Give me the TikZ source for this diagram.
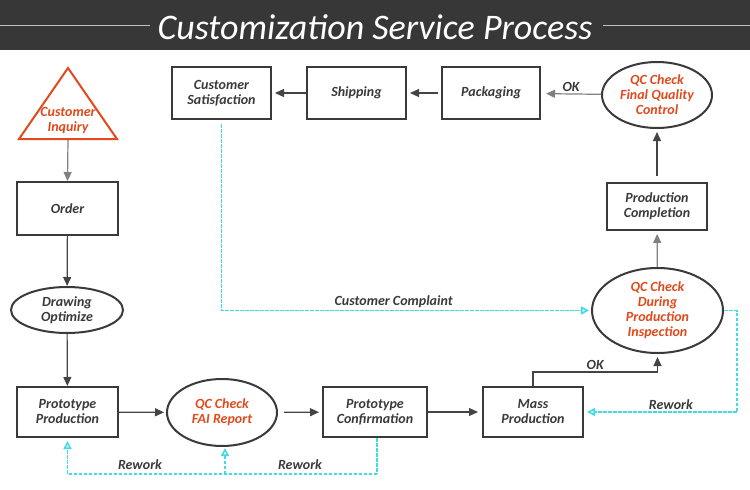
\documentclass[tikz,border=0pt]{standalone}
\usepackage{fontspec}
\setmainfont{Carlito}
\usetikzlibrary{arrows.meta,shapes.geometric}
\definecolor{band}{HTML}{373737}
\definecolor{txt}{HTML}{3A3A3A}
\definecolor{qcred}{HTML}{E04A1C}
\definecolor{cyn}{HTML}{3FDCE6}
\definecolor{ln}{HTML}{444444}
\newcommand\fsz{\fontsize{14}{15}\selectfont}
\begin{document}
\begin{tikzpicture}[x=1pt,y=-1pt,
  lbl/.style={font=\fsz\bfseries\itshape,text=txt,align=center},
  box/.style={lbl,draw=txt,line width=2pt,inner sep=0pt},
  ell/.style={lbl,draw=txt,line width=2pt,ellipse,inner sep=0pt},
  red/.style={text=qcred},
  arr/.style={draw=ln,line width=1.2pt,-{Triangle[length=9pt,width=8pt]}},
  cy/.style={draw=cyn,line width=1.6pt,dash pattern=on 3.5pt off 1.5pt,-{Triangle[open,length=8pt,width=8pt]}},
  tag/.style={lbl,inner sep=2pt}
]
\useasboundingbox (0,0) rectangle (750,490);
\fill[white] (0,0) rectangle (750,490);
% header
\fill[band] (0,0) rectangle (750,50);
\node[text=white,font=\fontsize{36}{36}\selectfont\itshape] (title) at (375,27) {Customization Service Process};
\draw[gray!50,line width=0.8pt] (0,25) -- (150,25);
\draw[gray!50,line width=0.8pt] (603,25) -- (750,25);
% triangle
\draw[qcred,line width=2pt,line join=miter] (68,68) -- (117,139) -- (19,139) -- cycle;
\node[lbl,red] (inq) at (68,121) {Customer\\Inquiry};
\coordinate (inqb) at (68,140);
% nodes
\node[box,minimum width=99pt,minimum height=52pt] (cs) at (221.5,93) {Customer\\Satisfaction};
\node[box,minimum width=99pt,minimum height=52pt] (ship) at (356.5,93) {Shipping};
\node[box,minimum width=98pt,minimum height=52pt] (pack) at (491,93) {Packaging};
\node[ell,red,minimum width=110pt,minimum height=66pt] (fqc) at (657,95) {QC Check\\Final Quality\\Control};
\node[box,minimum width=100pt,minimum height=47pt] (pc) at (657,206.5) {Production\\Completion};
\node[ell,red,minimum width=131pt,minimum height=85pt] (dqc) at (657.5,310.5) {QC Check\\During\\Production\\Inspection};
\node[box,minimum width=101pt,minimum height=53pt] (order) at (67.5,208.5) {Order};
\node[ell,minimum width=112pt,minimum height=46pt] (dopt) at (67,310) {Drawing\\Optimize};
\node[box,minimum width=101pt,minimum height=50pt] (pp) at (67.5,412) {Prototype\\Production};
\node[ell,red,minimum width=110pt,minimum height=67pt] (fai) at (222,412.5) {QC Check\\FAI Report};
\node[box,minimum width=104pt,minimum height=50pt] (pconf) at (375,412) {Prototype\\Confirmation};
\node[box,minimum width=100pt,minimum height=50pt] (mass) at (533,412) {Mass\\Production};
% arrows
\draw[arr,draw=gray] (inqb) -- (order.north);
\draw[arr] (order) -- (dopt);
\draw[arr] (dopt) -- (pp);
\draw[arr,shorten >=2pt] (pp) -- (fai);
\draw[arr,shorten <=6pt,shorten >=3pt] (fai) -- (pconf);
\draw[arr,shorten >=4pt] (pconf) -- (mass);
\draw[arr,shorten >=3pt] (mass.north) -- ++(0,-14) -| node[pos=0.25,above,tag] {OK} (dqc.south);
\draw[arr,draw=gray,shorten >=3pt] (dqc) -- (pc);
\draw[arr,shorten <=6pt,shorten >=3pt] (pc) -- (fqc);
\draw[arr,draw=gray,shorten >=5pt] (fqc) -- node[above,tag] {OK} (pack);
\draw[arr,shorten <=3pt,shorten >=3pt] (pack) -- (ship);
\draw[arr,shorten >=3pt] (ship) -- (cs);
% cyan dashed
\draw[cy,shorten <=4pt,shorten >=2pt] (cs.south) |- node[pos=0.733,above,tag] {Customer Complaint} (dqc.west);
\draw[cy,shorten >=3pt] (dqc.east) -- ++(13,0) coordinate (rr) |- node[pos=0.716,above,tag] {Rework} (mass.east);
\draw[cy,-,shorten >=0pt] ([xshift=2pt]pconf.south) -- ++(0,36) coordinate (rb);
\draw[cy,shorten >=3pt] (rb) -| (pp.south);
\coordinate (fb) at ([xshift=3pt]fai.south |- rb);
\draw[cy,shorten >=1pt] (fb) -- ([xshift=3pt]fai.south);
\node[tag] (rw1) at (140,465) {Rework};
\node[tag] (rw2) at (300,465) {Rework};
\end{tikzpicture}
\end{document}
